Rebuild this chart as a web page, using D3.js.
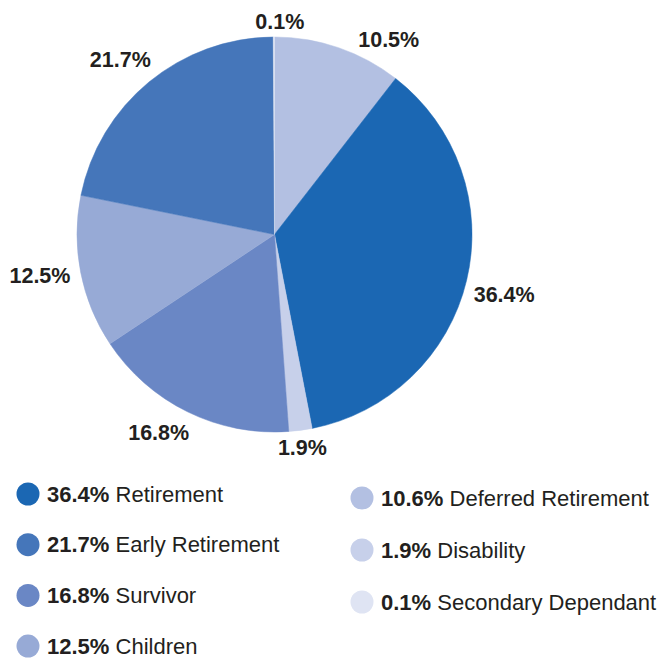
<!DOCTYPE html>
<html><head><meta charset="utf-8">
<script src="https://cdn.jsdelivr.net/npm/d3@7"></script>
<style>body{margin:0;background:#fff}svg{display:block}text{font-family:"Liberation Sans",Arial,Helvetica,sans-serif;fill:#231f20}</style>
</head><body>
<svg id="c" width="661" height="659"></svg>
<script>
// Pie slices, clockwise from 12 o'clock
const sliceNames = ["Deferred Retirement","Retirement","Disability","Survivor","Children","Early Retirement","Secondary Dependant"];
const sliceValues = [10.5, 36.4, 1.9, 16.8, 12.5, 21.7, 0.1];
const sliceLabels = ["10.5%","36.4%","1.9%","16.8%","12.5%","21.7%","0.1%"];
const sliceColors = ["#b3c0e2","#1b67b3","#c7d0ea","#6a87c5","#97aad6","#4576ba","#dfe4f3"];
// Legend
const legendPct = ["36.4%","21.7%","16.8%","12.5%","10.6%","1.9%","0.1%"];
const legendNames = ["Retirement","Early Retirement","Survivor","Children","Deferred Retirement","Disability","Secondary Dependant"];
const legendColors = ["#1b67b3","#4576ba","#6a87c5","#97aad6","#b3c0e2","#c7d0ea","#dfe4f3"];
// manual label nudges (px) applied after radial placement
const labelNudgeX = [15, -7, 0, 8, 4, 11, 6];
const labelNudgeY = [6, 11, 3, 8, 0, -11, -1.5];

const svg = d3.select("#c");
const cx = 274.5, cy = 234.5, R = 197.5;
const g = svg.append("g").attr("transform", `translate(${cx},${cy})`);
const data = sliceValues.map((v,i)=>({v,i}));
const pie = d3.pie().value(d=>d.v).sort(null);
const arcs = pie(data);
const arc = d3.arc().innerRadius(0).outerRadius(R);
g.selectAll("path").data(arcs).join("path")
  .attr("d", arc).attr("fill", d=>sliceColors[d.data.i])
  .attr("stroke", d=>sliceColors[d.data.i]).attr("stroke-width",0.5);

const LR = 212;
g.selectAll("text.lbl").data(arcs).join("text").attr("class","lbl")
  .each(function(d){
    const a = (d.startAngle+d.endAngle)/2;
    const s = Math.sin(a);
    const x = LR*s + labelNudgeX[d.data.i], y = -LR*Math.cos(a) + labelNudgeY[d.data.i];
    d3.select(this).attr("x",x).attr("y",y)
      .attr("text-anchor", Math.abs(s)<0.3 ? "middle" : (s>0 ? "start":"end"));
  })
  .attr("dy","0.35em").attr("font-size",21.5).attr("font-weight","bold")
  .text(d=>sliceLabels[d.data.i]);

// legend
const colX = [28, 362];
const rowY0 = [494, 498];
const rowStep = [50.7, 52];
legendPct.forEach((p,i)=>{
  const col = i<4?0:1, row = i<4?i:i-4;
  const x = colX[col], y = rowY0[col] + row*rowStep[col];
  svg.append("circle").attr("cx",x).attr("cy",y).attr("r",11.5).attr("fill",legendColors[i]);
  const t = svg.append("text").attr("x",x+19).attr("y",y).attr("dy","0.35em").attr("font-size",22);
  t.append("tspan").attr("font-weight","bold").text(p);
  t.append("tspan").text(" "+legendNames[i]);
});
</script>
</body></html>
